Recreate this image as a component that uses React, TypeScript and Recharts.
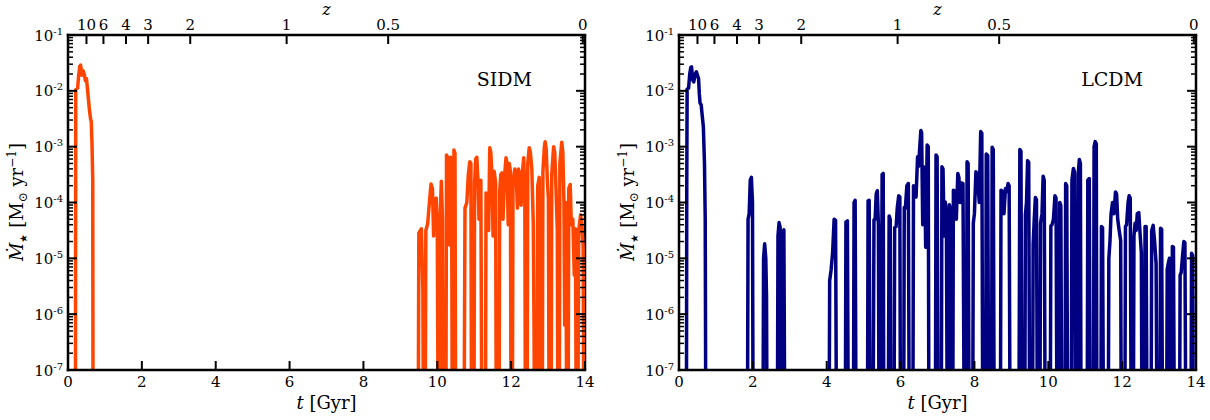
import { LineChart, Line, XAxis, YAxis, ReferenceLine } from 'recharts'

// star formation histories, [t in Gyr, log10 SFR in Msun/yr]; -9 means no star formation
const sidmSfr: [number, number][] = [
  [0, -9], [0.2, -9], [0.21, -1.98], [0.26, -1.95], [0.29, -1.72], [0.32, -1.56], [0.34, -1.54],
  [0.36, -1.62], [0.38, -1.72], [0.41, -1.64], [0.44, -1.7], [0.47, -1.82], [0.5, -1.78],
  [0.53, -1.98], [0.56, -2.2], [0.58, -2.34], [0.61, -2.5], [0.63, -2.55], [0.65, -2.95],
  [0.67, -3.6], [0.68, -9],
  [9.48, -9], [9.5, -4.55], [9.57, -4.47], [9.61, -5.6], [9.63, -9],
  [9.67, -9], [9.69, -4.5], [9.74, -4.38], [9.78, -4.05], [9.83, -3.67], [9.87, -3.75], [9.9, -4.6],
  [9.93, -3.95], [9.97, -3.92], [10.0, -4.5], [10.03, -9],
  [10.06, -9], [10.08, -4.2], [10.11, -3.62], [10.14, -4.3], [10.16, -9],
  [10.23, -9], [10.25, -3.15], [10.3, -3.22], [10.33, -4.76], [10.36, -3.19], [10.39, -4.2], [10.41, -9],
  [10.43, -9], [10.45, -3.06], [10.48, -3.12], [10.5, -9],
  [10.72, -9], [10.75, -4.1], [10.8, -4.0], [10.84, -3.5], [10.88, -3.27], [10.91, -3.3], [10.93, -9],
  [10.99, -9], [11.01, -3.65], [11.04, -3.22], [11.07, -3.19], [11.1, -3.6], [11.13, -4.3],
  [11.16, -3.9], [11.18, -3.6], [11.21, -9],
  [11.3, -9], [11.32, -3.83], [11.36, -3.9], [11.39, -4.5], [11.42, -3.02], [11.45, -3.1],
  [11.48, -3.5], [11.51, -4.6], [11.54, -3.44], [11.58, -3.65], [11.6, -9],
  [11.67, -9], [11.69, -3.8], [11.72, -3.5], [11.75, -3.47], [11.78, -4.3], [11.82, -3.55],
  [11.86, -3.2], [11.89, -3.3], [11.92, -4.4], [11.95, -3.3], [11.98, -3.45], [12.0, -9],
  [12.03, -9], [12.05, -3.65], [12.1, -3.4], [12.14, -3.6], [12.17, -4.1], [12.2, -3.4],
  [12.24, -3.55], [12.27, -4.05], [12.3, -3.5], [12.34, -3.2], [12.37, -3.8], [12.39, -9],
  [12.43, -9], [12.45, -3.3], [12.49, -3.02], [12.52, -3.1], [12.56, -3.4], [12.6, -4.4],
  [12.62, -6.3], [12.64, -9],
  [12.7, -9], [12.72, -3.7], [12.76, -3.55], [12.79, -9],
  [12.84, -9], [12.86, -3.45], [12.9, -3.0], [12.92, -2.91], [12.95, -3.05], [12.98, -3.6],
  [13.01, -3.95], [13.03, -9],
  [13.08, -9], [13.1, -3.5], [13.15, -3.0], [13.18, -3.1], [13.21, -3.65], [13.25, -4.5], [13.27, -9],
  [13.3, -9], [13.32, -3.3], [13.37, -2.92], [13.4, -3.1], [13.43, -4.0], [13.45, -6.2],
  [13.48, -4.0], [13.51, -9],
  [13.54, -9], [13.56, -3.75], [13.6, -3.68], [13.63, -4.4], [13.67, -4.3], [13.71, -5.3],
  [13.74, -4.47], [13.77, -9],
  [13.8, -9], [13.83, -4.5], [13.88, -4.22], [13.92, -4.45], [13.95, -4.8], [13.97, -9],
]

const lcdmSfr: [number, number][] = [
  [0, -9], [0.2, -9], [0.21, -3.8], [0.22, -1.97], [0.26, -1.95], [0.29, -1.7], [0.32, -1.58],
  [0.34, -1.57], [0.37, -1.8], [0.4, -1.84], [0.44, -1.7], [0.47, -1.66], [0.5, -1.72],
  [0.53, -1.78], [0.55, -2.05], [0.57, -2.22], [0.6, -2.25], [0.63, -2.45], [0.66, -2.65],
  [0.69, -3.3], [0.71, -4.3], [0.73, -9],
  [1.85, -9], [1.87, -4.3], [1.9, -4.2], [1.93, -3.6], [1.96, -3.55], [1.99, -4.0], [2.01, -9],
  [2.27, -9], [2.29, -5.0], [2.32, -4.74], [2.35, -5.0], [2.37, -5.68], [2.39, -9],
  [2.66, -9], [2.68, -4.6], [2.71, -4.36], [2.74, -4.45], [2.77, -9], [2.8, -4.55], [2.84, -4.49], [2.87, -9],
  [4.06, -9], [4.08, -5.4], [4.12, -5.2], [4.16, -4.9], [4.2, -4.3], [4.24, -4.32], [4.27, -9],
  [4.5, -9], [4.52, -4.35], [4.56, -4.33], [4.59, -9],
  [4.72, -9], [4.74, -4.0], [4.77, -3.96], [4.8, -9],
  [5.1, -9], [5.12, -3.97], [5.15, -3.96], [5.18, -9],
  [5.25, -9], [5.28, -4.31], [5.31, -4.3], [5.34, -3.85], [5.37, -3.79], [5.4, -4.4], [5.42, -9],
  [5.47, -9], [5.5, -3.5], [5.53, -3.48], [5.55, -9],
  [5.66, -9], [5.69, -4.24], [5.72, -4.3], [5.74, -9],
  [5.82, -9], [5.84, -4.45], [5.88, -4.43], [5.91, -4.1], [5.95, -3.88], [5.98, -3.9], [6.0, -9],
  [6.08, -9], [6.1, -4.09], [6.13, -4.1], [6.17, -3.7], [6.21, -3.66], [6.24, -9],
  [6.33, -9], [6.35, -3.7], [6.38, -3.72], [6.42, -3.9], [6.46, -3.18], [6.49, -3.35], [6.52, -3.0],
  [6.55, -2.71], [6.57, -2.75], [6.6, -4.4], [6.62, -3.36], [6.65, -3.38], [6.68, -4.8],
  [6.72, -2.97], [6.75, -3.0], [6.77, -9],
  [6.94, -9], [6.96, -3.15], [6.99, -3.18], [7.02, -9],
  [7.1, -9], [7.12, -3.36], [7.15, -3.4], [7.18, -4.6], [7.21, -3.99], [7.24, -4.2], [7.27, -9],
  [7.3, -9], [7.32, -4.04], [7.35, -4.1], [7.38, -9],
  [7.41, -9], [7.43, -3.78], [7.47, -3.8], [7.51, -4.3], [7.55, -3.48], [7.58, -3.55], [7.61, -4.0],
  [7.65, -3.65], [7.69, -3.66], [7.73, -9],
  [7.78, -9], [7.8, -3.27], [7.83, -3.3], [7.86, -9],
  [7.95, -9], [7.97, -4.37], [8.0, -4.2], [8.04, -3.45], [8.08, -3.48], [8.13, -4.0], [8.17, -2.73],
  [8.2, -2.76], [8.23, -9],
  [8.3, -9], [8.32, -3.13], [8.36, -3.16], [8.39, -9],
  [8.46, -9], [8.48, -3.01], [8.51, -3.05], [8.54, -9],
  [8.7, -9], [8.72, -3.78], [8.76, -3.8], [8.8, -4.2], [8.84, -3.75], [8.88, -3.8], [8.91, -3.66],
  [8.94, -3.7], [8.97, -9],
  [9.2, -9], [9.23, -3.05], [9.26, -3.08], [9.29, -9],
  [9.36, -9], [9.38, -4.22], [9.41, -4.0], [9.44, -3.25], [9.47, -3.28], [9.5, -9],
  [9.57, -9], [9.59, -4.75], [9.62, -4.3], [9.65, -3.91], [9.68, -3.95], [9.71, -9],
  [9.77, -9], [9.79, -4.37], [9.83, -4.2], [9.86, -3.53], [9.89, -3.6], [9.92, -9],
  [10.05, -9], [10.07, -4.42], [10.1, -4.4], [10.14, -4.3], [10.18, -3.88], [10.21, -3.92], [10.24, -9],
  [10.29, -9], [10.31, -4.0], [10.34, -4.05], [10.37, -9],
  [10.45, -9], [10.47, -3.66], [10.5, -3.7], [10.53, -9],
  [10.62, -9], [10.64, -3.6], [10.68, -3.39], [10.71, -3.45], [10.74, -9],
  [10.79, -9], [10.81, -3.5], [10.84, -3.23], [10.87, -3.3], [10.89, -9],
  [11.05, -9], [11.07, -3.6], [11.11, -3.57], [11.14, -9],
  [11.22, -9], [11.24, -3.0], [11.27, -2.91], [11.3, -2.95], [11.32, -9],
  [11.42, -9], [11.44, -4.43], [11.47, -4.45], [11.5, -9],
  [11.62, -9], [11.64, -5.0], [11.67, -4.7], [11.7, -4.2], [11.74, -4.0], [11.78, -4.2],
  [11.82, -3.81], [11.85, -3.85], [11.88, -4.3], [11.92, -4.5], [11.96, -4.68], [11.98, -9],
  [12.07, -9], [12.09, -4.43], [12.12, -4.4], [12.16, -4.0], [12.19, -3.88], [12.22, -3.92], [12.25, -9],
  [12.3, -9], [12.32, -4.6], [12.35, -4.37], [12.38, -4.5], [12.41, -4.2], [12.45, -4.18],
  [12.48, -4.5], [12.52, -4.9], [12.54, -9],
  [12.6, -9], [12.62, -4.43], [12.65, -4.43], [12.68, -9],
  [12.78, -9], [12.8, -4.5], [12.84, -4.41], [12.88, -4.7], [12.92, -5.1], [12.95, -9],
  [13.02, -9], [13.04, -4.46], [13.07, -4.48], [13.1, -9],
  [13.2, -9], [13.22, -5.2], [13.25, -5.09], [13.28, -5.0], [13.31, -9],
  [13.34, -9], [13.36, -4.79], [13.39, -4.8], [13.42, -9],
  [13.55, -9], [13.57, -5.3], [13.6, -5.25], [13.63, -5.0], [13.67, -4.7], [13.7, -4.72], [13.73, -9],
  [13.86, -9], [13.88, -4.91], [13.91, -4.95], [13.93, -9],
]

const tTicks = [0, 2, 4, 6, 8, 10, 12, 14]
const zTickT = [0.5, 0.96, 1.57, 2.17, 3.31, 5.92, 8.67, 13.94]
const zTickLabels = ['10', '6', '4', '3', '2', '1', '0.5', '0']
const decades = [-7, -6, -5, -4, -3, -2, -1]
const minorFactors = [2, 3, 4, 5, 6, 7, 8, 9]

const FONT = 'DejaVu Serif'
const PW = 517 // plot width
const yTicks: number[] = []
for (const d of decades) {
  yTicks.push(d)
  if (d < -1) for (const k of minorFactors) yTicks.push(d + Math.log10(k))
}

function YTick(props: any) {
  const { x, y, payload } = props
  const v = payload.value
  const major = Math.abs(v - Math.round(v)) < 1e-6
  const len = major ? 9 : 5
  return (
    <g>
      <line x1={x} x2={x + len} y1={y} y2={y} stroke="#000" strokeWidth={major ? 2 : 1.5} />
      <line x1={x + PW} x2={x + PW - len} y1={y} y2={y} stroke="#000" strokeWidth={major ? 2 : 1.5} />
      {major && (
        <text x={x - 5} y={y + 5.5} textAnchor="end" fontFamily={FONT} fontSize={15} fill="#000">
          10<tspan dy={-6} fontSize={10}>{`-${-Math.round(v)}`}</tspan>
        </text>
      )}
    </g>
  )
}

function BottomTick(props: any) {
  const { x, y, payload } = props
  return (
    <g>
      <line x1={x} x2={x} y1={y} y2={y - 9} stroke="#000" strokeWidth={2} />
      <text x={x} y={y + 17} textAnchor="middle" fontFamily={FONT} fontSize={15} fill="#000">
        {payload.value}
      </text>
    </g>
  )
}

function TopTick(props: any) {
  const { x, y, index } = props
  return (
    <g>
      <line x1={x} x2={x} y1={y} y2={y + 9} stroke="#000" strokeWidth={2} />
      <text x={x} y={y - 5} textAnchor="middle" fontFamily={FONT} fontSize={15} fill="#000">
        {zTickLabels[index]}
      </text>
    </g>
  )
}

const frame = { stroke: '#000', strokeWidth: 2.5, strokeLinecap: 'square' as const }

function Panel({ left, data, color }: { left: number; data: [number, number][]; color: string }) {
  const rows = data.map(([t, v]) => ({ t, v }))
  return (
    <div style={{ position: 'absolute', left, top: 0 }}>
      <LineChart width={605} height={420} data={rows} margin={{ top: 0, right: 20, bottom: 0, left: 0 }}>
        <XAxis
          dataKey="t"
          type="number"
          domain={[0, 14]}
          ticks={tTicks}
          interval={0}
          allowDataOverflow
          height={50}
          tickSize={0}
          tickMargin={0}
          tickLine={false}
          axisLine={frame}
          tick={<BottomTick />}
        />
        <XAxis
          xAxisId="z"
          dataKey="t"
          orientation="top"
          type="number"
          domain={[0, 14]}
          ticks={zTickT}
          interval={0}
          allowDataOverflow
          height={35}
          tickSize={0}
          tickMargin={0}
          tickLine={false}
          axisLine={frame}
          tick={<TopTick />}
        />
        <YAxis
          type="number"
          domain={[-7, -1]}
          ticks={yTicks}
          interval={0}
          allowDataOverflow
          width={68}
          tickSize={0}
          tickMargin={0}
          tickLine={false}
          axisLine={frame}
          tick={<YTick />}
        />
        <ReferenceLine x={14} stroke="#000" strokeWidth={2.5} />
        <Line
          dataKey="v"
          type="linear"
          stroke={color}
          strokeWidth={3.5}
          strokeLinejoin="round"
          dot={false}
          isAnimationActive={false}
        />
      </LineChart>
    </div>
  )
}

function Labels({ dx, name }: { dx: number; name: string }) {
  const cx = 326.5 + dx
  return (
    <g fontFamily={FONT} fill="#000">
      <text x={cx} y={15} textAnchor="middle" fontSize={16} fontStyle="italic">z</text>
      <text x={cx} y={409} textAnchor="middle" fontSize={18}>
        <tspan fontStyle="italic">t</tspan> [Gyr]
      </text>
      <text x={532 + dx} y={86} textAnchor="end" fontSize={19}>{name}</text>
      <text transform={`translate(${23 + dx},202) rotate(-90)`} textAnchor="middle" fontSize={18}>
        <tspan fontStyle="italic">{'\u1e40'}</tspan>
        <tspan fontSize={10} dy={4}>{'\u2605'}</tspan>
        <tspan dy={-4}>{' [M'}</tspan>
        <tspan fontSize={12} dy={4}>{'\u2299'}</tspan>
        <tspan dy={-4}>{' yr'}</tspan>
        <tspan fontSize={12} dy={-7}>{'\u22121'}</tspan>
        <tspan dy={7}>]</tspan>
      </text>
    </g>
  )
}

export default function App() {
  return (
    <div style={{ position: 'absolute', left: 0, top: 0, width: 1210, height: 420, background: '#fff', overflow: 'hidden' }}>
      <Panel left={0} data={sidmSfr} color="#ff4500" />
      <Panel left={611} data={lcdmSfr} color="#000080" />
      <svg width={1210} height={420} style={{ position: 'absolute', left: 0, top: 0, pointerEvents: 'none' }}>
        <Labels dx={0} name="SIDM" />
        <Labels dx={611} name="LCDM" />
      </svg>
    </div>
  )
}
